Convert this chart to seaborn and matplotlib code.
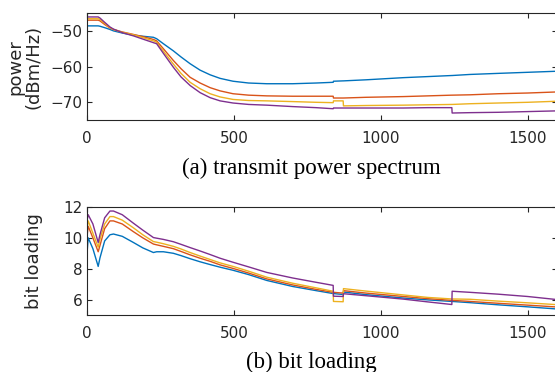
"""
发射功率谱 + 比特加载 两幅子图
"""
import numpy as np
import pandas as pd
import matplotlib
matplotlib.use("Agg")  # 非交互式后端
import matplotlib.pyplot as plt
import seaborn as sns

# ── 数据 ──
subcarrier = [0, 4, 20, 38, 44, 60, 78, 90, 120, 158, 190, 226, 237, 260, 294,
              320, 351, 385, 419, 453, 497, 550, 612, 700, 780, 838, 839, 872,
              873, 950, 1077, 1160, 1242, 1243, 1304, 1400, 1500, 1600]

psd_blue = [-48.6, -48.6, -48.6, -48.6, -48.7, -49.1, -49.6, -50.0, -50.6, -51.2,
            -51.5, -51.8, -52.2, -53.6, -55.6, -57.3, -59.2, -61.0, -62.3, -63.3,
            -64.1, -64.6, -64.8, -64.8, -64.6, -64.4, -64.1, -64.0, -64.0, -63.7,
            -63.1, -62.8, -62.5, -62.5, -62.2, -61.9, -61.6, -61.3]
psd_orange = [-47.0, -47.0, -47.0, -47.0, -47.2, -48.2, -49.2, -49.6, -50.3, -51.0,
              -51.6, -52.4, -52.8, -55.0, -58.3, -60.6, -63.0, -64.6, -65.9, -66.8,
              -67.6, -68.0, -68.2, -68.3, -68.3, -68.3, -68.8, -68.8, -68.8, -68.6,
              -68.4, -68.2, -68.0, -68.0, -67.9, -67.6, -67.4, -67.1]
psd_yellow = [-46.6, -46.6, -46.6, -46.6, -46.8, -47.9, -49.1, -49.6, -50.4, -51.1,
              -51.9, -52.8, -53.2, -55.7, -59.3, -61.9, -64.4, -66.2, -67.6, -68.5,
              -69.2, -69.5, -69.6, -69.8, -70.0, -70.1, -69.6, -69.6, -71.0, -70.9,
              -70.8, -70.7, -70.6, -70.6, -70.4, -70.2, -70.0, -69.7]
psd_purple = [-46.1, -46.1, -46.1, -46.1, -46.4, -47.6, -48.9, -49.5, -50.5, -51.4,
              -52.3, -53.3, -53.6, -56.3, -60.2, -62.9, -65.3, -67.3, -68.7, -69.6,
              -70.2, -70.6, -70.8, -71.2, -71.5, -71.8, -71.6, -71.6, -71.6, -71.6,
              -71.6, -71.5, -71.5, -73.0, -72.9, -72.8, -72.6, -72.4]

bits_blue = [9.0, 10.0, 9.3, 8.15, 8.7, 9.8, 10.2, 10.25, 10.1, 9.7, 9.35, 9.05,
             9.1, 9.1, 9.0, 8.85, 8.65, 8.45, 8.27, 8.1, 7.9, 7.62, 7.24, 6.85,
             6.58, 6.39, 6.39, 6.33, 6.49, 6.32, 6.1, 5.98, 5.88, 5.88, 5.8, 5.66,
             5.53, 5.39]
bits_orange = [10.1, 10.75, 10.0, 9.1, 9.5, 10.6, 11.1, 11.1, 10.9, 10.4, 10.0, 9.6,
               9.55, 9.45, 9.3, 9.12, 8.9, 8.68, 8.48, 8.25, 8.02, 7.72, 7.34, 6.95,
               6.66, 6.47, 6.47, 6.42, 6.58, 6.42, 6.2, 6.06, 5.95, 5.95, 5.88, 5.76,
               5.64, 5.52]
bits_yellow = [10.6, 11.1, 10.3, 9.4, 9.9, 10.9, 11.38, 11.38, 11.15, 10.65, 10.2,
               9.76, 9.72, 9.62, 9.45, 9.28, 9.05, 8.82, 8.6, 8.38, 8.15, 7.84, 7.45,
               7.06, 6.76, 6.54, 5.88, 5.86, 6.71, 6.55, 6.3, 6.14, 6.04, 6.04, 6.02,
               5.9, 5.79, 5.67]
bits_purple = [11.15, 11.5, 10.9, 9.7, 10.2, 11.3, 11.74, 11.74, 11.5, 10.95, 10.5,
               10.02, 9.98, 9.9, 9.75, 9.58, 9.37, 9.15, 8.92, 8.68, 8.42, 8.12, 7.76,
               7.4, 7.12, 6.92, 6.22, 6.2, 6.38, 6.25, 6.03, 5.85, 5.68, 6.54, 6.47,
               6.35, 6.2, 6.0]

cases = ["case 1", "case 2", "case 3", "case 4"]
colors = ["#0072BD", "#D95319", "#EDB120", "#7E2F8E"]
x_ticks = [0, 500, 1000, 1500]
psd_ticks = [-70, -60, -50]
bits_ticks = [6, 8, 10, 12]

AX_COLOR = "#262626"


def to_long(series):
    """把若干条曲线拼成长表，便于 seaborn 按 hue 绘制"""
    frames = [pd.DataFrame({"x": subcarrier, "y": vals, "case": name})
              for name, vals in zip(cases, series)]
    return pd.concat(frames, ignore_index=True)


def style_axes(ax, yticks, ylim):
    ax.set_xlim(0, 1600)
    ax.set_ylim(*ylim)
    ax.set_xticks(x_ticks)
    ax.set_yticks(yticks)
    ax.set_xticklabels([str(t) for t in x_ticks])
    ax.set_yticklabels([str(t).replace("-", "\u2212") for t in yticks])
    ax.set_xlabel("")
    for sp in ax.spines.values():
        sp.set_visible(True)
        sp.set_color(AX_COLOR)
        sp.set_linewidth(0.8)
    ax.tick_params(direction="in", length=3.5, width=0.8, colors=AX_COLOR,
                   top=True, right=True, bottom=True, left=True,
                   labelsize=11)
    ax.tick_params(axis="x", pad=8)
    ax.tick_params(axis="y", pad=3)


sns.set_theme(style="white")
plt.rcParams["font.family"] = ["DejaVu Sans"]

fig = plt.figure(figsize=(5.55, 3.72), dpi=100)
ax1 = fig.add_axes([0.1568, 0.677, 0.8468, 0.288])
ax2 = fig.add_axes([0.1568, 0.1532, 0.8468, 0.2903])

sns.lineplot(data=to_long([psd_blue, psd_orange, psd_yellow, psd_purple]),
             x="x", y="y", hue="case", palette=colors, estimator=None,
             sort=False, legend=False, linewidth=1.0, ax=ax1)
style_axes(ax1, psd_ticks, (-75, -45))
ax1.set_ylabel("power\n(dBm/Hz)", fontsize=13, color=AX_COLOR, linespacing=1.0)
ax1.yaxis.set_label_coords(-0.094, 0.5)

sns.lineplot(data=to_long([bits_blue, bits_orange, bits_yellow, bits_purple]),
             x="x", y="y", hue="case", palette=colors, estimator=None,
             sort=False, legend=False, linewidth=1.0, ax=ax2)
style_axes(ax2, bits_ticks, (5, 12))
ax2.set_ylabel("bit loading", fontsize=13, color=AX_COLOR)
ax2.yaxis.set_label_coords(-0.094, 0.5)

fig.text(311 / 555, 1 - 168 / 372, "(a) transmit power spectrum",
         family=["Liberation Serif"], fontsize=16.5, ha="center", va="center",
         color="black")
fig.text(311 / 555, 1 - 362 / 372, "(b) bit loading",
         family=["Liberation Serif"], fontsize=16.5, ha="center", va="center",
         color="black")

fig.savefig("out.png", dpi=100)
plt.close(fig)
